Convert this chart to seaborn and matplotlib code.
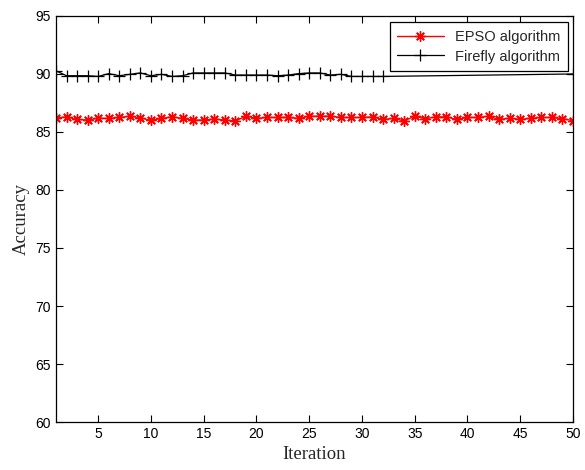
import matplotlib
matplotlib.use("Agg")
import matplotlib.pyplot as plt
import seaborn as sns
import pandas as pd

iterations = list(range(1, 51))
epso_accuracy = [86.22, 86.30, 86.08, 86.03, 86.19, 86.17, 86.25, 86.36, 86.22, 86.00,
                 86.17, 86.30, 86.17, 86.03, 86.03, 86.11, 86.03, 85.95, 86.36, 86.17,
                 86.25, 86.25, 86.25, 86.17, 86.36, 86.36, 86.36, 86.25, 86.25, 86.25,
                 86.30, 86.08, 86.17, 85.95, 86.36, 86.14, 86.30, 86.30, 86.08, 86.25,
                 86.25, 86.36, 86.08, 86.19, 86.08, 86.19, 86.25, 86.25, 86.14, 85.98]

# Firefly points visible in the reference (33-49 hidden behind the legend)
firefly_iter = list(range(1, 33)) + [50]
firefly_accuracy = [90.27, 89.85, 89.85, 89.85, 89.79, 90.03, 89.85, 89.97, 90.09, 89.85,
                    89.97, 89.79, 89.85, 90.09, 90.09, 90.09, 90.09, 89.91, 89.91, 89.91,
                    89.91, 89.85, 89.91, 90.03, 90.09, 90.09, 89.91, 89.97, 89.79, 89.79,
                    89.79, 89.79, 90.00]

series_names = ["EPSO algorithm", "Firefly algorithm"]
x_ticks = [5, 10, 15, 20, 25, 30, 35, 40, 45, 50]
y_ticks = [60, 65, 70, 75, 80, 85, 90, 95]

sns.set_style("ticks")
plt.rcParams["font.family"] = ["Liberation Sans", "DejaVu Sans"]

fig = plt.figure(figsize=(5.85, 4.70), dpi=100)
ax = fig.add_axes([0.0957, 0.1021, 0.8838, 0.8639])

df_e = pd.DataFrame({"Iteration": iterations, "Accuracy": epso_accuracy})
df_f = pd.DataFrame({"Iteration": firefly_iter, "Accuracy": firefly_accuracy})

sns.lineplot(data=df_e, x="Iteration", y="Accuracy", ax=ax, color="red",
             marker=(8, 2, 0), markersize=7.5, markeredgecolor="red",
             markeredgewidth=1.0, linewidth=1.0, label=series_names[0])
sns.lineplot(data=df_f, x="Iteration", y="Accuracy", ax=ax, color="black",
             marker="+", markersize=8, markeredgecolor="black",
             markeredgewidth=0.9, linewidth=0.9, label=series_names[1])

ax.set_xlim(1, 50)
ax.set_ylim(60, 95)
ax.set_xticks(x_ticks)
ax.set_yticks(y_ticks)
ax.tick_params(direction="in", top=True, right=True, length=5, width=0.8,
               labelsize=10, colors="black")
for sp in ax.spines.values():
    sp.set_color("black")
    sp.set_linewidth(0.9)

ax.set_xlabel("Iteration", fontfamily="Liberation Serif", fontsize=13.5, labelpad=4)
ax.set_ylabel("Accuracy", fontfamily="Liberation Serif", fontsize=13.5, labelpad=4)

leg = ax.legend(loc="upper right", bbox_to_anchor=(0.99, 0.984), borderaxespad=0,
                fancybox=False, framealpha=1, edgecolor="black", fontsize=10.5,
                handlelength=3.2, borderpad=0.5, labelspacing=0.4)
leg.get_frame().set_linewidth(0.9)

fig.savefig("out.png", dpi=100)
